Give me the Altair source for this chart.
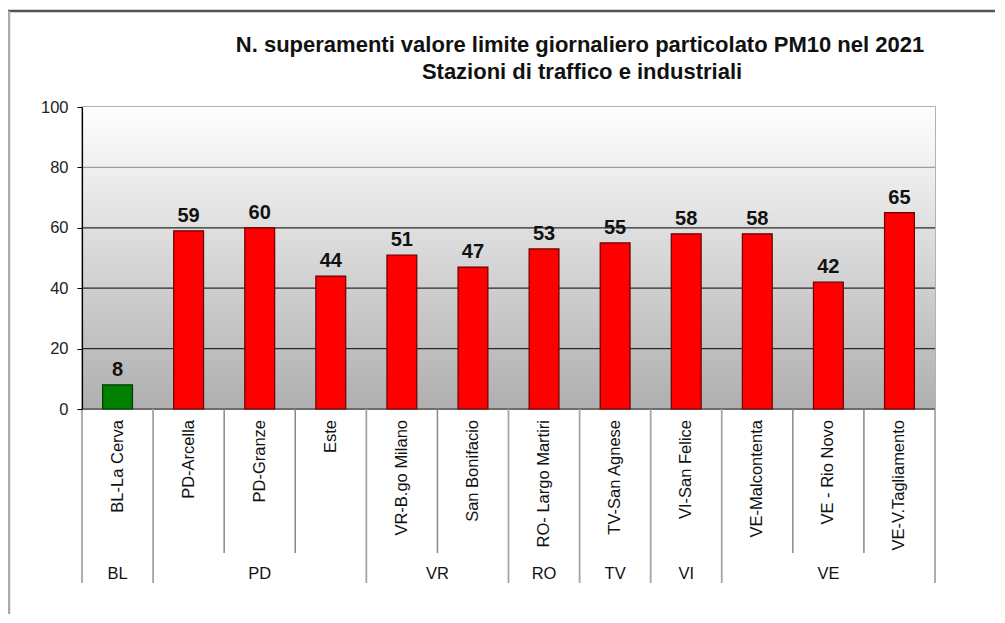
import altair as alt
import pandas as pd

# ---------------- data ----------------
STATIONS = [
    "BL-La Cerva", "PD-Arcella", "PD-Granze", "Este", "VR-B.go Milano",
    "San Bonifacio", "RO- Largo Martiri", "TV-San Agnese", "VI-San Felice",
    "VE-Malcontenta", "VE - Rio Novo", "VE-V.Tagliamento",
]
PROVINCES = ["BL", "PD", "PD", "PD", "VR", "VR", "RO", "TV", "VI", "VE", "VE", "VE"]
EXCEEDANCES = [8, 59, 60, 44, 51, 47, 53, 55, 58, 58, 42, 65]
Y_TICKS = [0, 20, 40, 60, 80, 100]
TITLE_LINES = [
    "N. superamenti valore limite giornaliero particolato PM10 nel 2021",
    "Stazioni di traffico e industriali",
]
ALLOWED = 35  # allowed exceedances per year

FONT = "Liberation Sans"
W, H = 853, 302
N = len(STATIONS)

bars = pd.DataFrame({"station": STATIONS, "prov": PROVINCES, "n": EXCEEDANCES})
bars["pos"] = list(range(N))
bars["x0"] = bars["pos"] + 0.29
bars["x1"] = bars["pos"] + 0.71
bars["xc"] = bars["pos"] + 0.5
bars["zero"] = 0
bars["status"] = ["ok" if v <= ALLOWED else "over" for v in EXCEEDANCES]

groups = []
start = 0
for i in range(1, N + 1):
    if i == N or PROVINCES[i] != PROVINCES[start]:
        groups.append({"prov": PROVINCES[start], "start": start, "end": i,
                       "xc": (start + i) / 2})
        start = i
grp = pd.DataFrame(groups)
bounds = set(int(b) for b in grp["start"]).union(int(b) for b in grp["end"])
sep_long_df = pd.DataFrame({"x": [x for x in range(N + 1) if x in bounds]})
sep_short_df = pd.DataFrame({"x": [x for x in range(N + 1) if x not in bounds]})

grid_dark = pd.DataFrame({"v": [t for t in Y_TICKS if t < 80]})
grid_light = pd.DataFrame({"v": [t for t in Y_TICKS if t == 80]})
area_df = pd.DataFrame({"x": [0, N], "top": [Y_TICKS[-1], Y_TICKS[-1]], "zero": [0, 0]})

xscale = alt.Scale(domain=[0, N], nice=False, zero=False)
yscale = alt.Scale(domain=[0, 100], nice=False)

Y_AXIS = alt.Axis(
    values=Y_TICKS, title=None, tickSize=5, tickColor="#000", tickWidth=1,
    domainColor="#000", domainWidth=1.2, labelFontSize=16.5, labelFont=FONT,
    labelPadding=9, labelColor="#222", grid=False, zindex=1,
)

gradient = alt.Gradient(
    gradient="linear",
    stops=[alt.GradientStop(color="#ffffff", offset=0),
           alt.GradientStop(color="#afafaf", offset=1)],
    x1=1, x2=1, y1=0, y2=1,
)
bg = alt.Chart(area_df).mark_area(color=gradient).encode(
    x=alt.X("x:Q", scale=xscale, axis=None),
    y=alt.Y("top:Q", scale=yscale, axis=Y_AXIS),
    y2="zero:Q",
)

grid1 = alt.Chart(grid_dark).mark_rule(strokeWidth=1.2, color="#2a2a2a").encode(
    y=alt.Y("v:Q", scale=yscale, axis=Y_AXIS),
)
grid2 = alt.Chart(grid_light).mark_rule(strokeWidth=1.2, color="#a0a0a0").encode(
    y=alt.Y("v:Q", scale=yscale, axis=Y_AXIS),
)

base = alt.Chart(bars)

bar_layer = base.mark_bar(strokeWidth=1.2).encode(
    x=alt.X("x0:Q", scale=xscale, axis=None),
    x2="x1:Q",
    y=alt.Y("n:Q", scale=yscale, axis=Y_AXIS),
    y2="zero:Q",
    fill=alt.Fill("status:N", scale=alt.Scale(domain=["ok", "over"],
                                              range=["#008000", "#ff0000"]), legend=None),
    stroke=alt.Stroke("status:N", scale=alt.Scale(domain=["ok", "over"],
                                                  range=["#003a00", "#6a0000"]), legend=None),
)

value_labels = base.mark_text(
    font=FONT, fontSize=20, fontWeight="bold", color="#111",
    baseline="alphabetic", dy=-9,
).encode(
    x=alt.X("xc:Q", scale=xscale, axis=None),
    y=alt.Y("n:Q", scale=yscale, axis=Y_AXIS),
    text="n:Q",
)

cat_labels = base.mark_text(
    font=FONT, fontSize=16.5, color="#111", angle=270,
    align="right", baseline="middle",
).encode(
    x=alt.X("xc:Q", scale=xscale, axis=None),
    y=alt.value(H + 11),
    text="station:N",
)

sep_short = alt.Chart(sep_short_df).mark_rule(color="#888", strokeWidth=1.5).encode(
    x=alt.X("x:Q", scale=xscale, axis=None), y=alt.value(H), y2=alt.value(H + 144)
)
sep_long = alt.Chart(sep_long_df).mark_rule(color="#a5a5a5", strokeWidth=1.8).encode(
    x=alt.X("x:Q", scale=xscale, axis=None), y=alt.value(H), y2=alt.value(H + 174)
)

grp_labels = alt.Chart(grp).mark_text(
    font=FONT, fontSize=16.5, color="#111", baseline="middle"
).encode(
    x=alt.X("xc:Q", scale=xscale, axis=None),
    y=alt.value(H + 165),
    text="prov:N",
)

title1 = alt.Chart(pd.DataFrame({"t": [TITLE_LINES[0]]})).mark_text(
    font=FONT, fontSize=22, fontWeight="bold", color="#111", baseline="middle"
).encode(text="t:N", x=alt.value(498), y=alt.value(-62))
title2 = alt.Chart(pd.DataFrame({"t": [TITLE_LINES[1]]})).mark_text(
    font=FONT, fontSize=22, fontWeight="bold", color="#111", baseline="middle"
).encode(text="t:N", x=alt.value(500), y=alt.value(-35))

frame_top = alt.Chart(pd.DataFrame({"k": [0]})).mark_rule(
    color="#555", strokeWidth=2.5
).encode(x=alt.value(-75), x2=alt.value(913), y=alt.value(-96))
frame_left = alt.Chart(pd.DataFrame({"k": [0]})).mark_rule(
    color="#aaa", strokeWidth=2.5
).encode(x=alt.value(-73), y=alt.value(-96), y2=alt.value(507))

chart = alt.layer(
    bg, grid1, grid2, sep_long, sep_short, bar_layer, value_labels, cat_labels,
    grp_labels, title1, title2, frame_top, frame_left,
).properties(
    width=W, height=H,
    autosize=alt.AutoSizeParams(type="none"),
    padding={"left": 74, "top": 99, "right": 60, "bottom": 206},
    background="white",
).configure_view(
    stroke="#999", strokeWidth=1.5,
)

chart.save("out.html", embed_options={"renderer": "svg", "actions": False})
